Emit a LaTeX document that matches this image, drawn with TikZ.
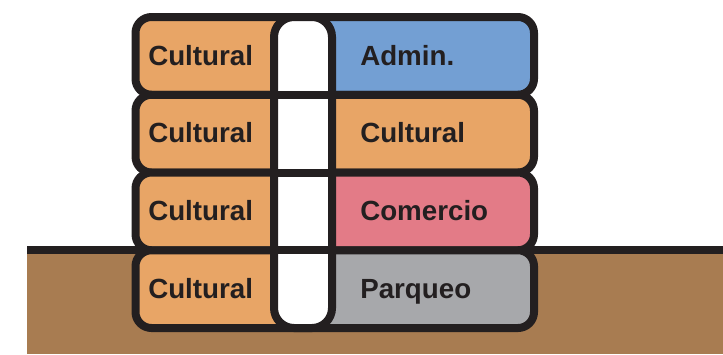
\documentclass[tikz,border=0pt]{standalone}
\usepackage{fontspec}
\setmainfont{Liberation Sans}
\usetikzlibrary{positioning}
\definecolor{flInk}{HTML}{231F20}
\definecolor{flCultural}{HTML}{E8A566}
\definecolor{flAdmin}{HTML}{739FD3}
\definecolor{flComercio}{HTML}{E37B87}
\definecolor{flParqueo}{HTML}{A7A8AB}
\definecolor{soilBrown}{HTML}{A87C51}
\tikzset{
  floorline/.style = {draw=flInk, line width=6pt, rounded corners=12pt},
  floorfill/.style = {rounded corners=12pt},
  shaftbox/.style  = {fill=white, draw=flInk, line width=6pt, rounded corners=15pt},
  inkline/.style   = {draw=flInk, line width=6pt},
  flab/.style      = {font=\fontsize{20.8}{24}\selectfont\bfseries, text=flInk,
                      anchor=base west, inner sep=0pt},
}

\begin{document}
\begin{tikzpicture}[x=0.75pt, y=-0.75pt]
    \useasboundingbox (0,0) rectangle (723,354);
    % ground
    \fill[soilBrown] (27,250) rectangle (723,354);
    \draw[inkline] (27,250.25) -- (723,250.25);
    % floors, top to bottom: left part always cultural
    \foreach \i/\rcol/\rtxt in {0/flAdmin/Admin., 1/flCultural/Cultural,
                                2/flComercio/Comercio, 3/flParqueo/Parqueo}{%
      \pgfmathsetmacro{\ytop}{17+77.75*\i}
      \pgfmathsetmacro{\ybot}{\ytop+77.75}
      \begin{scope}
        \clip (120,\ytop-10) rectangle (303,\ybot+10);
        \fill[flCultural, floorfill] (135.5,\ytop) rectangle (534,\ybot);
      \end{scope}
      \begin{scope}
        \clip (303,\ytop-10) rectangle (550,\ybot+10);
        \fill[\rcol, floorfill] (135.5,\ytop) rectangle (534,\ybot);
      \end{scope}
      \draw[floorline] (135.5,\ytop) rectangle (534,\ybot);
      \node[flab] (cult-\i) at (148,\ytop+48) {Cultural};
      \node[flab] (use-\i)  at (360,\ytop+48) {\rtxt};
    }
    % shaft through all floors
    \draw[shaftbox] (274,17) rectangle (332,328);
    \foreach \i in {1,2,3}{%
      \draw[inkline] (274,17+77.75*\i) -- (332,17+77.75*\i);}
  \end{tikzpicture}
\end{document}
